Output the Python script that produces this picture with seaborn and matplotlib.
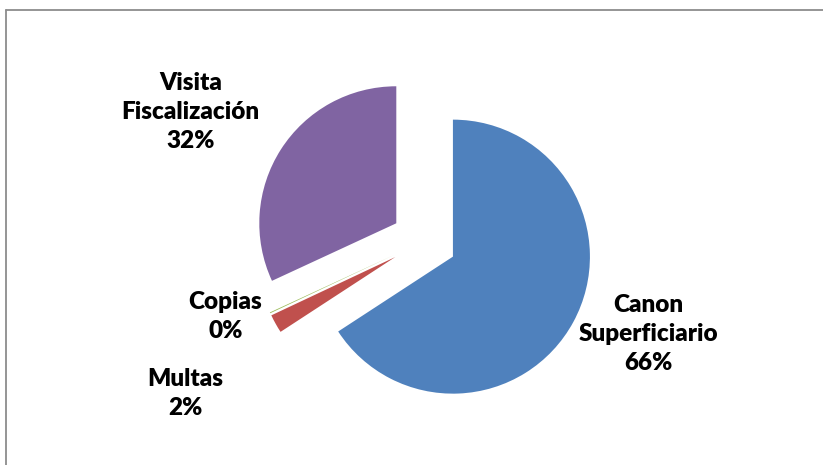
"""
Exploded pie of income sources, Excel-style labels around the pie.
"""

import matplotlib
matplotlib.use('Agg')
import matplotlib.pyplot as plt
import seaborn as sns
from matplotlib.lines import Line2D

# data
categories = ['Canon\nSuperficiario', 'Multas', 'Copias', 'Visita\nFiscalización']
shares = [65.8, 2.2, 0.1, 31.9]
colors = ['#4F81BD', '#C0504D', '#9BBB59', '#8064A2']

# label centres in pie-radius units (layout only)
label_pos = [(1.635, -0.68), (-1.745, -1.115), (-1.45, -0.55), (-1.705, 0.94)]


def plotPie():
    sns.set_theme(style='white')
    plt.rcParams['font.family'] = ['Lato', 'DejaVu Sans']

    fig = plt.figure(figsize=(8.23, 4.65), dpi=100)
    # square axes, radius 1 -> ~137 px
    ax = fig.add_axes([0.2655, 0.0398, 0.4994, 0.8839])

    total = sum(shares)
    labels = ['%s\n%.0f%%' % (c, round(v / total * 100)) for c, v in zip(categories, shares)]

    wedges, texts = ax.pie(shares, colors=colors, startangle=90, counterclock=False,
                           explode=[0.24] * len(shares), labels=labels,
                           wedgeprops={'linewidth': 0})
    for t, (x, y) in zip(texts, label_pos):
        t.set_position((x, y))
        t.set_ha('center')
        t.set_va('center')
        t.set_fontsize(17.5)
        t.set_fontweight('heavy')
        t.set_linespacing(1.4)
        t.set_color('black')

    ax.set_xlim(-1.5, 1.5)
    ax.set_ylim(-1.5, 1.5)
    ax.set_aspect('equal')
    ax.axis('off')

    # chart frame (only top and left edges fall inside the image)
    fig.add_artist(Line2D([5.5 / 823, 1.0], [1 - 10.5 / 465] * 2, color='#8c8c8c', lw=1.3))
    fig.add_artist(Line2D([5.5 / 823] * 2, [0.0, 1 - 10.5 / 465], color='#8c8c8c', lw=1.3))

    fig.savefig('out.png', dpi=100)


if __name__ == '__main__':
    plotPie()
